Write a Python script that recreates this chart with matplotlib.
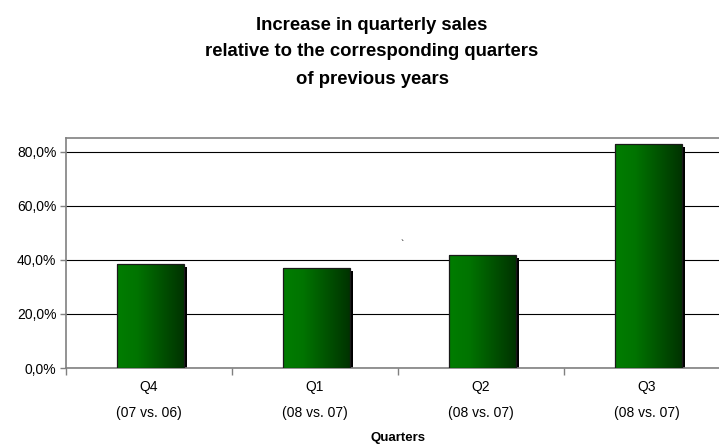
import matplotlib
matplotlib.use("Agg")
import matplotlib.pyplot as plt
import numpy as np
from matplotlib.colors import LinearSegmentedColormap
from matplotlib.ticker import FuncFormatter
import matplotlib.transforms as mtransforms

plt.rcParams['font.family'] = ['Liberation Sans', 'DejaVu Sans']

quarters = ["Q4", "Q1", "Q2", "Q3"]
periods = ["(07 vs. 06)", "(08 vs. 07)", "(08 vs. 07)", "(08 vs. 07)"]
increase = [38.6, 37.0, 41.7, 82.7]
yticks = [0, 20, 40, 60, 80]

W, H = 719, 448
fig = plt.figure(figsize=(W / 100, H / 100), dpi=100)
ax = fig.add_axes([66 / W, 80 / H, (730 - 66) / W, 230 / H])

x = np.arange(len(quarters)) + 0.01
width = 0.40

# shadow
shadow_tr = ax.transData + mtransforms.Affine2D().translate(3.5, -3)
ax.bar(x, increase, width, color='black', transform=shadow_tr, zorder=2)

bars = ax.bar(x, increase, width, color='none', edgecolor='#1a1a1a', linewidth=0.9, zorder=4)
cmap = LinearSegmentedColormap.from_list('g', [(0, '#007d00'), (0.3, '#007400'), (1.0, '#003300')])
grad = np.linspace(0, 1, 256).reshape(1, -1)
for b in bars:
    x0, y0 = b.get_x(), b.get_y()
    w, h = b.get_width(), b.get_height()
    im = ax.imshow(grad, cmap=cmap, aspect='auto', extent=[x0, x0 + w, y0, y0 + h],
                   zorder=3, interpolation='bilinear')
    im.set_clip_path(b)

ax.set_xlim(-0.5, 3.5)
ax.set_ylim(0, 85.0)
ax.set_yticks(yticks)
ax.yaxis.set_major_formatter(FuncFormatter(lambda v, p: f"{v:.1f}%".replace('.', ',')))
ax.set_xticks(np.arange(len(quarters) + 1) - 0.5)
ax.set_xticklabels([])
ax.grid(axis='y', color='black', linewidth=0.8, zorder=1)
ax.set_axisbelow(True)
for s in ['top', 'left', 'bottom', 'right']:
    ax.spines[s].set_color('#808080')
    ax.spines[s].set_linewidth(1.2)
ax.tick_params(axis='y', direction='out', length=4, width=1, color='#808080', labelsize=10, pad=3)
ax.tick_params(axis='x', direction='out', length=5, width=1, color='#808080')

for i, (q, p) in enumerate(zip(quarters, periods)):
    trans = ax.get_xaxis_transform() + mtransforms.Affine2D().translate(0, -19)
    ax.text(i, 0, q, transform=trans, ha='center', va='center', fontsize=10)
    trans2 = ax.get_xaxis_transform() + mtransforms.Affine2D().translate(0, -45)
    ax.text(i, 0, p, transform=trans2, ha='center', va='center', fontsize=10)

fig.text(398 / W, 1 - 438 / H, "Quarters", ha='center', va='center', fontsize=9.5, fontweight='bold')
fig.text(372 / W, 1 - 25 / H, "Increase in quarterly sales", ha='center', va='center', fontsize=13.3, fontweight='bold')
fig.text(372 / W, 1 - 52 / H, "relative to the corresponding quarters", ha='center', va='center', fontsize=13.3, fontweight='bold')
fig.text(372 / W, 1 - 79 / H, "of previous years", ha='center', va='center', fontsize=13.3, fontweight='bold')
fig.text(402 / W, 1 - 245 / H, "`", ha='center', va='center', fontsize=7)

fig.savefig("out.png", dpi=100)
